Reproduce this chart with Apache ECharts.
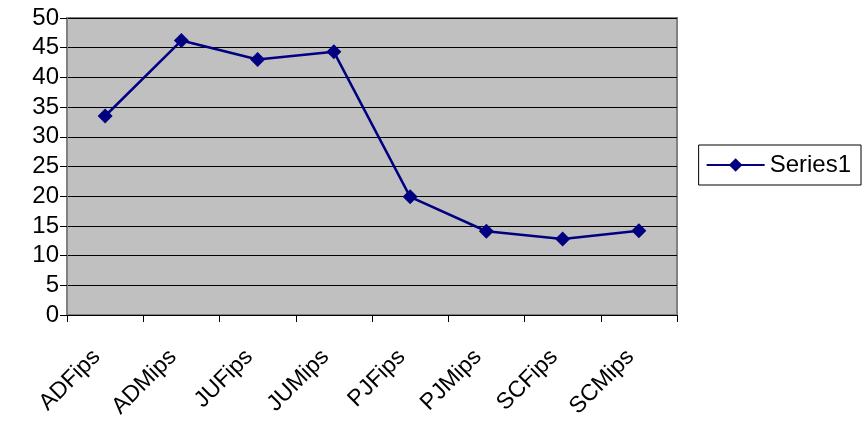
<!DOCTYPE html>
<html><head><meta charset="utf-8">
<script src="https://cdn.jsdelivr.net/npm/echarts@6/dist/echarts.min.js"></script>
<style>html,body{margin:0;padding:0;background:#fff}#c{width:865px;height:425px}</style>
</head><body><div id="c"></div>
<script>
const categories = ['ADFips','ADMips','JUFips','JUMips','PJFips','PJMips','SCFips','SCMips'];
const series1 = [33.5, 46.2, 43.0, 44.3, 19.9, 14.1, 12.8, 14.2];
const seriesName = 'Series1';
const yMin = 0, yMax = 50, yStep = 5;
const font = 'Liberation Sans, Arial, sans-serif';
const chart = echarts.init(document.getElementById('c'));
chart.setOption({
  animation: false,
  backgroundColor: '#ffffff',
  grid: {left: 67, top: 18, right: 188, bottom: 110, show: true, backgroundColor: '#c0c0c0', borderColor: '#808080', borderWidth: 2},
  legend: {
    data: [seriesName], right: 4, top: 145, orient: 'vertical',
    borderColor: '#000', borderWidth: 1, padding: [8, 10, 8, 7],
    itemWidth: 58, itemHeight: 17, itemGap: 6,
    textStyle: {fontFamily: font, fontSize: 24, color: '#000'}
  },
  xAxis: {
    type: 'category', data: categories, boundaryGap: true,
    axisLine: {lineStyle: {color: '#000', width: 1}},
    axisTick: {show: true, length: 7, lineStyle: {color: '#000'}},
    axisLabel: {rotate: 45, margin: 30, padding: [0, 12, 0, 0], fontFamily: font, fontSize: 23, color: '#000'}
  },
  yAxis: {
    type: 'value', min: yMin, max: yMax, interval: yStep,
    axisLine: {show: true, lineStyle: {color: '#808080', width: 2}},
    axisTick: {show: true, length: 7, lineStyle: {color: '#000'}},
    axisLabel: {margin: 8, fontFamily: font, fontSize: 24, color: '#000'},
    splitLine: {show: true, lineStyle: {color: '#000', width: 1}}
  },
  series: [{
    name: seriesName, type: 'line', data: series1,
    symbol: 'diamond', symbolSize: 15,
    lineStyle: {color: '#000080', width: 2.5},
    itemStyle: {color: '#000080'}
  }]
});
</script></body></html>
